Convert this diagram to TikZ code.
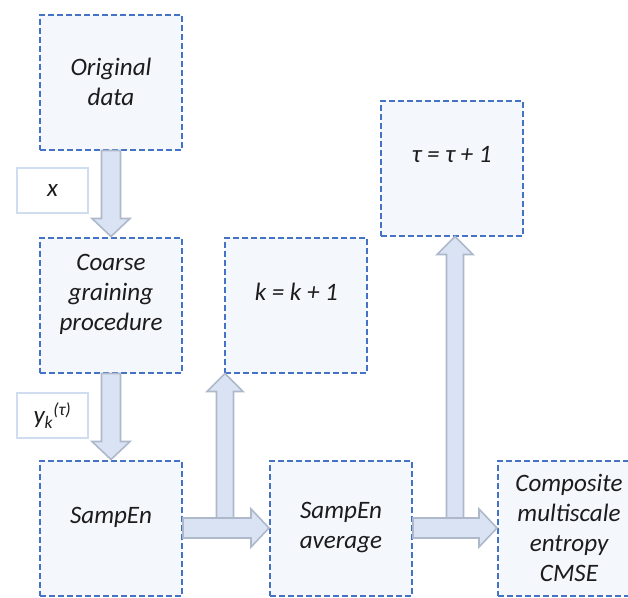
\documentclass[tikz,border=0pt]{standalone}
\usepackage{fontspec}
\setmainfont{Carlito}
\usepackage{tikz}
\usetikzlibrary{calc}
\usetikzlibrary{positioning}
\definecolor{cm-text}{HTML}{1C1C1C}
\definecolor{cm-border}{HTML}{4472C4}
\definecolor{cm-fill}{HTML}{F4F7FC}
\definecolor{cm-arrow}{HTML}{DAE3F3}
\definecolor{cm-arrowline}{HTML}{ADB9CA}
\definecolor{cm-label}{HTML}{D0DCF0}

\begin{document}
\begin{tikzpicture}[
    x=0.75pt, y=-0.75pt,
    node distance=64.5pt,
    font=\fontsize{18.8}{22.5}\selectfont\itshape,
    >=latex
  ]
  \tikzset{
    stepbox/.style={draw=cm-border, fill=cm-fill, line width=1.5pt, dash pattern=on 4.5pt off 2.25pt, minimum width=106.5pt, minimum height=101.25pt, inner sep=0pt, text=cm-text, align=center},
    varbox/.style={draw=cm-label, fill=white, line width=1.2pt, minimum width=53.25pt, minimum height=33.75pt, inner sep=0pt, text=cm-text},
    fatarrow/.style={draw=cm-arrowline, fill=cm-arrow, line width=1.2pt, line join=miter}
  }

  \useasboundingbox (0,0) rectangle (628,597);

  \node (orig) [stepbox] at (111,82) {Original\\data};
  \node (coarse) [stepbox, below=of orig] {Coarse\\graining\\procedure\\[-4pt]\mbox{}};
  \node (sampen) [stepbox, below=of coarse] {SampEn\\[-4pt]\mbox{}};
  \node (avg) [stepbox, right=of sampen] {SampEn\\average};
  \node (cmse) [stepbox, right=63pt of avg] {Composite\\multiscale\\entropy\\CMSE};
  \node (kstep) [stepbox, right=31pt of coarse] {k = k + 1\\[-3pt]\mbox{}};
  \node (taustep) [stepbox, above right=0pt and 8.5pt of kstep] {τ = τ + 1\\[-2pt]\mbox{}};

  \node (xlab) [varbox] at (52.5,190.5) {x};
  \node (ylab) [varbox] at (52.5,415.5) {y\textsubscript{k}\textsuperscript{(τ)}};

  % down arrows
  \draw[fatarrow] ($(orig.south)+(-9.5,0)$) -- ($(coarse.north)+(-9.5,-18)$) -- ($(coarse.north)+(-19,-18)$) -- (coarse.north)
    -- ($(coarse.north)+(19,-18)$) -- ($(coarse.north)+(9.5,-18)$) -- ($(orig.south)+(9.5,0)$) -- cycle;
  \draw[fatarrow] ($(coarse.south)+(-9.5,0)$) -- ($(sampen.north)+(-9.5,-18)$) -- ($(sampen.north)+(-19,-18)$) -- (sampen.north)
    -- ($(sampen.north)+(19,-18)$) -- ($(sampen.north)+(9.5,-18)$) -- ($(coarse.south)+(9.5,0)$) -- cycle;

  % right arrows
  \draw[fatarrow] ($(sampen.east)+(0,-10)$) -- ($(avg.west)+(-18,-10)$) -- ($(avg.west)+(-18,-19)$) -- (avg.west)
    -- ($(avg.west)+(-18,19)$) -- ($(avg.west)+(-18,10)$) -- ($(sampen.east)+(0,10)$) -- cycle;
  \draw[fatarrow] ($(avg.east)+(0,-10)$) -- ($(cmse.west)+(-18,-10)$) -- ($(cmse.west)+(-18,-19)$) -- (cmse.west)
    -- ($(cmse.west)+(-18,19)$) -- ($(cmse.west)+(-18,10)$) -- ($(avg.east)+(0,10)$) -- cycle;

  % up arrows
  \coordinate (kfoot) at ($(sampen.east)!0.5!(avg.west)+(-1,-10)$);
  \coordinate (ktip) at (kfoot |- kstep.south);
  \draw[fatarrow] ($(kfoot)+(-8.5,0)$) -- ($(ktip)+(-8.5,18)$) -- ($(ktip)+(-18,18)$) -- (ktip)
    -- ($(ktip)+(18,18)$) -- ($(ktip)+(8.5,18)$) -- ($(kfoot)+(8.5,0)$) -- cycle;
  \coordinate (taufoot) at ($(avg.east)!0.5!(cmse.west)+(0,-10)$);
  \coordinate (tautip) at (taufoot |- taustep.south);
  \draw[fatarrow] ($(taufoot)+(-8.5,0)$) -- ($(tautip)+(-8.5,18)$) -- ($(tautip)+(-18,18)$) -- (tautip)
    -- ($(tautip)+(18,18)$) -- ($(tautip)+(8.5,18)$) -- ($(taufoot)+(8.5,0)$) -- cycle;
\end{tikzpicture}
\end{document}
